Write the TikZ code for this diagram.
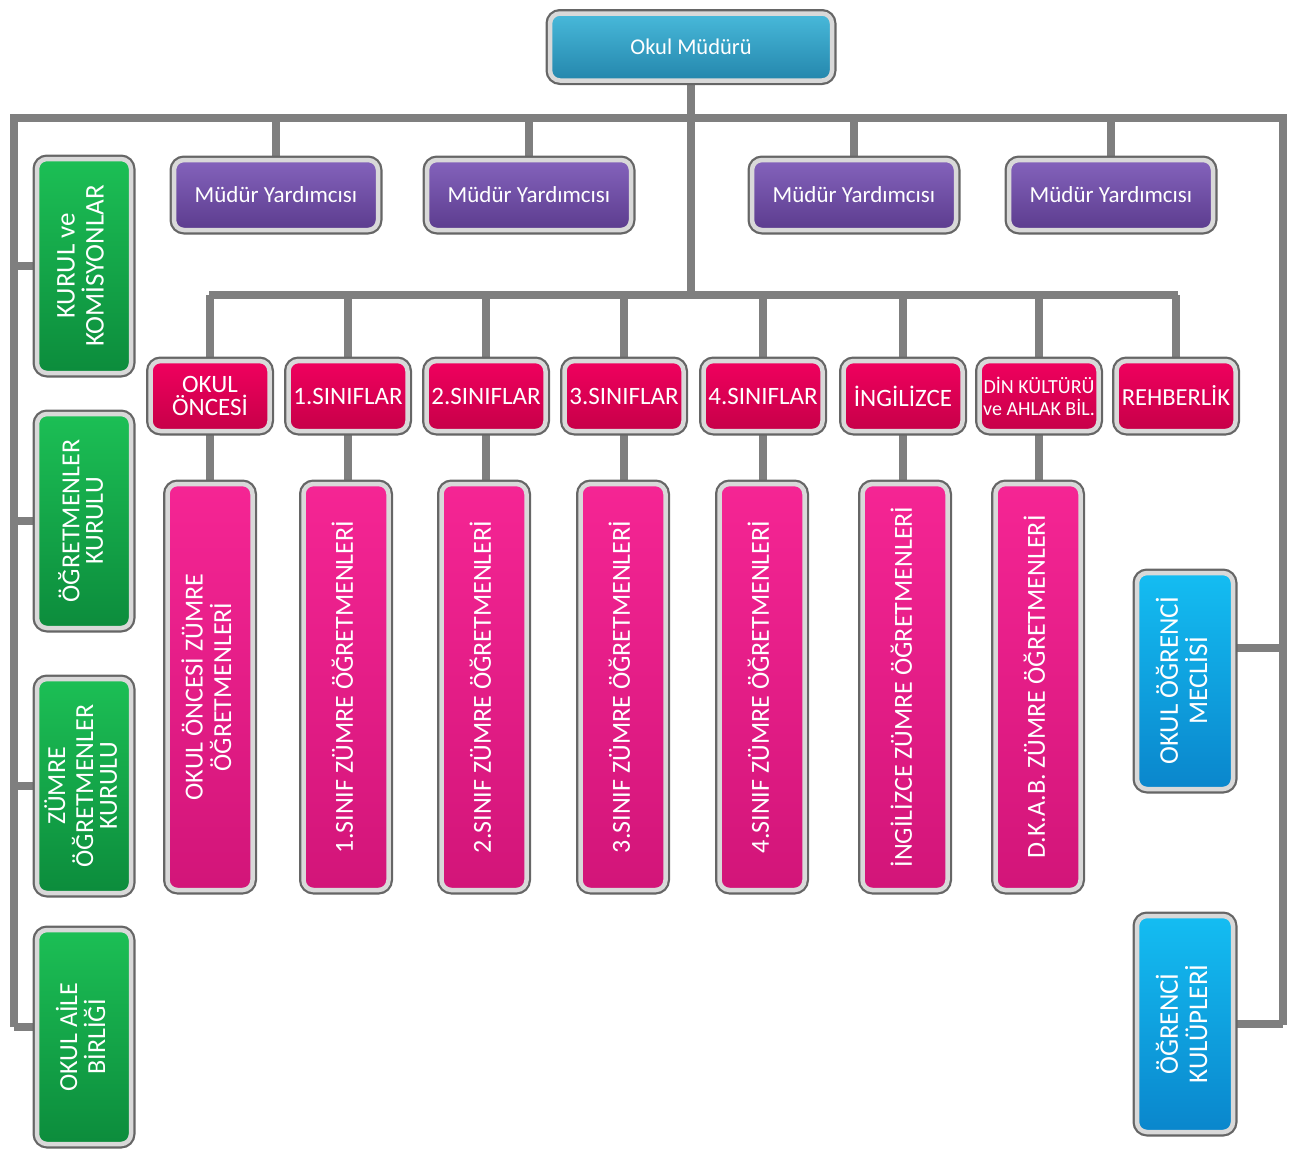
\documentclass[tikz,border=0pt]{standalone}
\usepackage{fontspec}
\setmainfont{Carlito}
\usetikzlibrary{shadows,backgrounds}

\definecolor{bossA}{HTML}{48B9DA}
\definecolor{bossB}{HTML}{2486AC}
\definecolor{viceA}{HTML}{8463BC}
\definecolor{viceB}{HTML}{5C3C8E}
\definecolor{classA}{HTML}{F0005E}
\definecolor{classB}{HTML}{C60048}
\definecolor{teachA}{HTML}{F52594}
\definecolor{teachB}{HTML}{D21579}
\definecolor{boardA}{HTML}{1CBF55}
\definecolor{boardB}{HTML}{0C8C3C}
\definecolor{pupilA}{HTML}{14BDF2}
\definecolor{pupilB}{HTML}{0A86CC}
\definecolor{linkgray}{HTML}{7F7F7F}

\newcommand{\vlabel}[1]{\rotatebox{90}{\begin{tabular}{@{}c@{}}#1\end{tabular}}}

\tikzset{
  box/.style={rounded corners=10pt, text=white, align=center, inner sep=2pt,
    drop shadow={opacity=0.35, shadow xshift=2pt, shadow yshift=-4pt},
    preaction={draw=gray!80!black, line width=9pt},
    draw=gray!30, line width=4.5pt, font=\fontsize{23}{25}\selectfont},
  boss/.style={box, top color=bossA, bottom color=bossB,
    minimum width=282pt, minimum height=67pt},
  vice/.style={box, top color=viceA, bottom color=viceB,
    minimum width=204pt, minimum height=70pt},
  class/.style={box, top color=classA, bottom color=classB,
    minimum width=119pt, minimum height=70pt, font=\fontsize{25}{26}\selectfont},
  teach/.style={box, top color=teachA, bottom color=teachB,
    minimum width=85pt, minimum height=406pt, font=\fontsize{26}{25}\selectfont},
  board/.style={box, top color=boardA, bottom color=boardB,
    minimum width=94pt, minimum height=214pt, font=\fontsize{26}{23}\selectfont},
  pupil/.style={box, top color=pupilA, bottom color=pupilB,
    minimum width=96pt, minimum height=216pt, font=\fontsize{27}{24}\selectfont},
  link/.style={draw=linkgray, line width=8pt}
}

\begin{document}
\begin{tikzpicture}[x=1pt, y=-1pt]
  \useasboundingbox (0,0) rectangle (1302,1154);

  % head
  \node[boss, font=\fontsize{22.5}{25}\selectfont] (mudur) at (691,47) {Okul Müdürü};

  % vice principals
  \node[vice] (vice1) at (276,195) {Müdür Yardımcısı};
  \node[vice] (vice2) at (529,195) {Müdür Yardımcısı};
  \node[vice] (vice3) at (854,195) {Müdür Yardımcısı};
  \node[vice] (vice4) at (1111,195) {Müdür Yardımcısı};

  % classes
  \node[class] (c0) at (210,396) {OKUL\\[-3pt]ÖNCESİ};
  \node[class] (c1) at (348,396) {1.SINIFLAR};
  \node[class] (c2) at (486,396) {2.SINIFLAR};
  \node[class] (c3) at (624,396) {3.SINIFLAR};
  \node[class] (c4) at (763,396) {4.SINIFLAR};
  \node[class] (c5) at (903,396) {İNGİLİZCE};
  \node[class, font=\fontsize{20}{22}\selectfont] (c6) at (1039,396)
    {DİN KÜLTÜRÜ\\ve AHLAK BİL.};
  \node[class, font=\fontsize{24.5}{26}\selectfont] (c7) at (1176,396) {REHBERLİK};

  % teacher groups
  \node[teach] (t0) at (210,687) {\vlabel{OKUL ÖNCESİ ZÜMRE\\ÖĞRETMENLERİ}};
  \node[teach] (t1) at (346,687) {\vlabel{1.SINIF ZÜMRE ÖĞRETMENLERİ}};
  \node[teach] (t2) at (484,687) {\vlabel{2.SINIF ZÜMRE ÖĞRETMENLERİ}};
  \node[teach] (t3) at (623,687) {\vlabel{3.SINIF ZÜMRE ÖĞRETMENLERİ}};
  \node[teach] (t4) at (762,687) {\vlabel{4.SINIF ZÜMRE ÖĞRETMENLERİ}};
  \node[teach] (t5) at (905,687) {\vlabel{İNGİLİZCE ZÜMRE ÖĞRETMENLERİ}};
  \node[teach] (t6) at (1038,687) {\vlabel{D.K.A.B. ZÜMRE ÖĞRETMENLERİ}};

  % boards on the left
  \node[board, font=\fontsize{27}{23}\selectfont] (kurul) at (84,266)
    {\vlabel{KURUL ve\\KOMİSYONLAR}};
  \node[board] (ogrk) at (84,521) {\vlabel{ÖĞRETMENLER\\KURULU}};
  \node[board] (zumk) at (84,786) {\vlabel{ZÜMRE\\ÖĞRETMENLER\\KURULU}};
  \node[board] (aile) at (84,1037) {\vlabel{OKUL AİLE\\BİRLİĞİ}};

  % pupils on the right
  \node[pupil] (meclis) at (1185,681) {\vlabel{OKUL ÖĞRENCİ\\MECLİSİ}};
  \node[pupil] (kulup) at (1185,1024) {\vlabel{ÖĞRENCİ\\KULÜPLERİ}};

  % frame and bus
  \coordinate (tl) at (14,118);
  \coordinate (tr) at (1283,118);
  \coordinate (bl) at (14,1027);
  \coordinate (br) at (1283,1025);
  \coordinate (busL) at (209,295);
  \coordinate (busR) at (1178,295);

  \begin{scope}[on background layer]
    \draw[link] (bl) -- (tl) -- (tr) -- (br);
    \draw[link] (mudur.south) -- (mudur.south |- busL);
    \draw[link] (busL) -- (busR);
    \foreach \v in {vice1,vice2,vice3,vice4}
      \draw[link] (\v.north) -- (\v.north |- tl);
    \foreach \c in {c0,c1,c2,c3,c4,c5,c6,c7}
      \draw[link] (\c.north) -- (\c.north |- busL);
    \foreach \c/\t in {c0/t0,c1/t1,c2/t2,c3/t3,c4/t4,c5/t5,c6/t6}
      \draw[link] (\c.south) -- (\c.south |- \t.north);
    \foreach \b in {kurul,ogrk,zumk}
      \draw[link] (\b.west) -- (\b.west -| tl);
    \draw[link] ([yshift=10pt]aile.west) -- ([yshift=10pt]aile.west -| bl);
    \draw[link] ([yshift=33pt]meclis.east) -- ([yshift=33pt]meclis.east -| tr);
    \draw[link] (kulup.east) -- (kulup.east -| br);
  \end{scope}
\end{tikzpicture}
\end{document}
